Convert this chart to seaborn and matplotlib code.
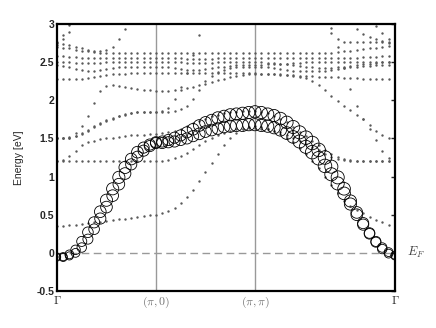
import numpy as np
import pandas as pd
import matplotlib
matplotlib.use("Agg")
import matplotlib.pyplot as plt
import seaborn as sns

nan = np.nan

# k-path Gamma -> X -> M -> Gamma (steps per segment)
n_gx, n_xm, n_mg = 16, 16, 22
k_labels = [r"$\Gamma$", r"$(\pi,0)$", r"$(\pi,\pi)$", r"$\Gamma$"]
y_ticks = [-0.5, 0, 0.5, 1, 1.5, 2, 2.5, 3]
y_ticklabels = ["-0.5", "0", "0.5", "1", "1.5", "2", "2.5", "3"]

# orbital-weighted bands (open circles): energies and weights
orb_a = [-0.05, -0.05, -0.02, 0.04, 0.15, 0.27, 0.40, 0.54, 0.69, 0.84, 0.99, 1.12, 1.23, 1.32, 1.38, 1.42, 1.45,
         1.46, 1.48, 1.51, 1.54, 1.58, 1.62, 1.67, 1.71, 1.74, 1.77, 1.79, 1.81, 1.82, 1.83, 1.84, 1.85,
         1.84, 1.82, 1.80, 1.76, 1.71, 1.65, 1.58, 1.51, 1.44, 1.35, 1.25, 1.13, 0.99, 0.84, 0.68, 0.53,
         0.39, 0.26, 0.15, 0.07, 0.01, -0.03]
orb_b = [-0.06, -0.06, -0.04, 0.00, 0.07, 0.18, 0.31, 0.45, 0.60, 0.75, 0.90, 1.04, 1.16, 1.26, 1.34, 1.40, 1.44,
         1.44, 1.45, 1.46, 1.48, 1.50, 1.53, 1.56, 1.59, 1.61, 1.63, 1.65, 1.66, 1.67, 1.67, 1.68, 1.68,
         1.67, 1.66, 1.64, 1.61, 1.57, 1.52, 1.46, 1.39, 1.32, 1.24, 1.14, 1.03, 0.91, 0.78, 0.64, 0.50,
         0.37, 0.25, 0.14, 0.05, -0.01, -0.04]
w_a = [0.45, 0.5, 0.55, 0.6, 0.65, 0.7, 0.75, 0.8, 0.85, 0.85, 0.85, 0.85, 0.8, 0.8, 0.75, 0.75, 0.75,
       0.75, 0.75, 0.75, 0.75, 0.75, 0.8, 0.8, 0.8, 0.8, 0.85, 0.85, 0.85, 0.85, 0.85, 0.85, 0.85,
       0.85, 0.85, 0.85, 0.9, 0.9, 0.95, 0.95, 1.0, 1.0, 1.0, 1.0, 0.95, 0.95, 0.9, 0.85, 0.8,
       0.75, 0.7, 0.65, 0.6, 0.55, 0.5]
w_b = [0.45, 0.5, 0.5, 0.55, 0.6, 0.65, 0.7, 0.75, 0.8, 0.8, 0.8, 0.8, 0.75, 0.75, 0.75, 0.75, 0.75,
       0.75, 0.75, 0.75, 0.75, 0.75, 0.75, 0.8, 0.8, 0.8, 0.8, 0.8, 0.85, 0.85, 0.85, 0.85, 0.85,
       0.85, 0.85, 0.85, 0.85, 0.9, 0.9, 0.95, 0.95, 1.0, 1.0, 1.0, 0.95, 0.95, 0.9, 0.85, 0.8,
       0.75, 0.7, 0.65, 0.6, 0.55, 0.5]

# remaining bands (small dots)
bands = {
    "d1": [0.35, 0.35, 0.36, 0.37, 0.38, 0.39, 0.40, 0.41, 0.42, 0.43, 0.44, 0.45, 0.46, 0.47, 0.48, 0.49, 0.50,
           0.52, 0.55, 0.59, 0.65, 0.73, 0.83, 0.94, 1.06, 1.18, 1.30, 1.41, 1.50, 1.57, 1.62, 1.65, 1.66,
           1.65, 1.63, 1.60, 1.56, 1.51, 1.45, 1.38, 1.30, 1.21, 1.11, 1.00, 0.89, 0.78, 0.68, 0.61, 0.56,
           0.52, 0.47, 0.43, 0.40, 0.37, 0.35],
    "d2": [1.20, 1.20, 1.20, 1.20, 1.20, 1.20, 1.20, 1.20, 1.20, 1.20, 1.20, 1.21, 1.21, 1.21, 1.21, 1.21, 1.21,
           1.21, 1.22, 1.24, 1.27, 1.31, 1.36, 1.41, 1.46, 1.50, 1.54, 1.57, 1.60, 1.62, 1.63, 1.64, 1.64,
           1.63, 1.62, 1.60, 1.58, 1.55, 1.51, 1.47, 1.43, 1.39, 1.35, 1.30, 1.26, 1.23, 1.22, 1.21, 1.21,
           1.21, 1.20, 1.20, 1.20, 1.20, 1.20],
    "d3": [1.20, 1.22, 1.27, 1.34, 1.41, 1.45, 1.47, 1.49, 1.50, 1.51, 1.52, 1.53, 1.54, 1.55, 1.55, 1.56, 1.56,
           1.57, 1.58, 1.60, 1.63, 1.66, 1.70, 1.73, 1.76, 1.79, 1.81, 1.83, 1.84, 1.85, 1.86, 1.86, 1.86,
           1.85, 1.83, 1.80, 1.76, 1.71, 1.65, 1.59, 1.53, 1.47, 1.41, 1.35, 1.30, 1.26, 1.23, 1.22, 1.21,
           1.21, 1.21, 1.21, 1.20, 1.20, 1.20],
    "d4": [1.50, 1.50, 1.52, 1.57, 1.66, 1.80, 1.97, 2.12, 2.19, 2.20, 2.19, 2.18, 2.16, 2.15, 2.14, 2.13, 2.12,
           2.12, 2.12, 2.13, 2.14, 2.16, 2.18, 2.20, 2.22, 2.24, 2.26, 2.28, 2.30, 2.32, 2.33, 2.34, 2.34,
           2.34, 2.34, 2.34, 2.33, 2.33, 2.32, 2.31, 2.29, 2.25, 2.20, 2.13, 2.06, 1.99, 1.93, 1.87, 1.81,
           1.75, 1.68, 1.60, 1.54, 1.50, 1.50],
    "d5": [1.50, 1.50, 1.51, 1.53, 1.56, 1.60, 1.65, 1.69, 1.73, 1.76, 1.79, 1.81, 1.83, 1.84, 1.85, 1.85, 1.85,
           1.86, 1.90, 2.02, 2.17, 2.36, 2.60, 2.86, 3.10, nan, nan, nan, nan, nan, nan, nan, nan,
           nan, nan, nan, nan, nan, nan, nan, nan, nan, nan, nan, 2.95, 2.70, 2.42, 2.15, 1.93,
           1.75, 1.62, 1.48, 1.34, 1.25, 1.20],
    "d6": [1.50, 1.50, 1.51, 1.53, 1.57, 1.61, 1.66, 1.70, 1.74, 1.77, 1.80, 1.82, 1.83, 1.84, 1.85, 1.85, 1.85,
           1.85, 1.85, 1.86, 1.88, 1.93, 2.02, 2.13, 2.25, 2.32, 2.37, 2.40, 2.42, 2.43, 2.44, 2.44, 2.44,
           2.44, 2.43, 2.42, 2.41, 2.40, 2.39, 2.38, 2.38, 2.38, 2.38, 2.39, 2.40, 2.41, 2.42, 2.43, 2.44,
           2.45, 2.45, 2.46, 2.46, 2.46, 2.46],
    "d7": [2.28, 2.28, 2.28, 2.28, 2.28, 2.29, 2.30, 2.32, 2.33, 2.34, 2.35, 2.35, 2.36, 2.36, 2.36, 2.36, 2.36,
           2.36, 2.36, 2.36, 2.36, 2.36, 2.36, 2.36, 2.36, 2.36, 2.36, 2.36, 2.36, 2.36, 2.36, 2.36, 2.36,
           2.35, 2.35, 2.34, 2.34, 2.33, 2.33, 2.32, 2.32, 2.32, 2.31, 2.31, 2.30, 2.30, 2.29, 2.29, 2.29,
           2.28, 2.28, 2.28, 2.28, 2.28, 2.28],
    "d8": [2.46, 2.45, 2.43, 2.41, 2.40, 2.39, 2.39, 2.40, 2.41, 2.42, 2.43, 2.43, 2.44, 2.44, 2.44, 2.44, 2.44,
           2.44, 2.43, 2.42, 2.41, 2.40, 2.40, 2.40, 2.41, 2.42, 2.43, 2.44, 2.45, 2.46, 2.46, 2.46, 2.46,
           2.46, 2.47, 2.47, 2.48, 2.48, 2.49, 2.49, 2.50, 2.50, 2.50, 2.50, 2.50, 2.50, 2.50, 2.50, 2.50,
           2.50, 2.50, 2.50, 2.50, 2.50, 2.50],
    "d9": [2.50, 2.50, 2.50, 2.49, 2.49, 2.49, 2.49, 2.49, 2.50, 2.50, 2.50, 2.50, 2.50, 2.50, 2.50, 2.50, 2.50,
           2.50, 2.50, 2.50, 2.50, 2.49, 2.49, 2.49, 2.49, 2.49, 2.50, 2.50, 2.50, 2.50, 2.50, 2.50, 2.50,
           2.50, 2.49, 2.49, 2.48, 2.47, 2.46, 2.45, 2.44, 2.43, 2.42, 2.42, 2.42, 2.43, 2.44, 2.45, 2.46,
           2.47, 2.48, 2.49, 2.50, 2.50, 2.50],
    "d10": [2.58, 2.58, 2.57, 2.57, 2.56, 2.56, 2.56, 2.55, 2.55, 2.55, 2.55, 2.55, 2.55, 2.55, 2.55, 2.55, 2.55,
            2.55, 2.55, 2.55, 2.55, 2.54, 2.54, 2.54, 2.54, 2.54, 2.55, 2.55, 2.55, 2.55, 2.55, 2.55, 2.55,
            2.55, 2.55, 2.55, 2.55, 2.55, 2.55, 2.55, 2.55, 2.55, 2.55, 2.55, 2.55, 2.55, 2.56, 2.56, 2.56,
            2.57, 2.57, 2.57, 2.58, 2.58, 2.58],
    "d11": [2.70, 2.69, 2.68, 2.66, 2.65, 2.64, 2.63, 2.62, 2.62, 2.62, 2.62, 2.62, 2.62, 2.62, 2.62, 2.62, 2.62,
            2.62, 2.62, 2.62, 2.62, 2.62, 2.62, 2.62, 2.62, 2.62, 2.62, 2.62, 2.62, 2.62, 2.62, 2.62, 2.62,
            2.62, 2.62, 2.62, 2.62, 2.62, 2.62, 2.62, 2.62, 2.62, 2.62, 2.62, 2.62, 2.63, 2.64, 2.65, 2.66,
            2.67, 2.68, 2.69, 2.70, 2.71, 2.72],
    "d12": [2.75, 2.74, 2.72, 2.70, 2.68, 2.66, 2.65, 2.65, 2.66, 2.70, 2.80, 2.93, 3.08, nan, nan, nan, nan,
            nan, nan, nan, nan, nan, nan, nan, nan, nan, nan, nan, nan, nan, nan, nan, nan,
            nan, nan, nan, nan, nan, nan, nan, nan, nan, nan, 3.05, 2.88, 2.80, 2.77, 2.76, 2.76,
            2.76, 2.76, 2.76, 2.76, 2.75, 2.75],
    "d13": [2.72, 2.80, 2.90, 3.02, nan, nan, nan, nan, nan, nan, nan, nan, nan, nan, nan, nan, nan,
            nan, nan, nan, nan, nan, nan, nan, nan, nan, nan, nan, nan, nan, nan, nan, nan,
            nan, nan, nan, nan, nan, nan, nan, nan, nan, nan, nan, nan, nan, nan, nan, 2.93,
            2.87, 2.83, 2.80, 2.78, 2.76, 2.74],
    "d14": [2.76, 2.86, 2.99, nan, nan, nan, nan, nan, nan, nan, nan, nan, nan, nan, nan, nan, nan,
            nan, nan, nan, nan, nan, nan, nan, nan, nan, nan, nan, nan, nan, nan, nan, nan,
            nan, nan, nan, nan, nan, nan, nan, nan, nan, nan, nan, nan, nan, nan, nan, nan,
            nan, nan, 2.97, 2.88, 2.80, 2.76],
}

# path coordinate along the k-path
k = np.concatenate([
    np.linspace(0, np.pi, n_gx + 1),
    np.pi + np.linspace(0, np.pi, n_xm + 1)[1:],
    2 * np.pi + np.linspace(0, np.pi * np.sqrt(2), n_mg + 1)[1:],
])
k_sym = [k[0], k[n_gx], k[n_gx + n_xm], k[-1]]

df_dots = pd.concat(
    [pd.DataFrame({"k": k, "E": vals, "band": name}) for name, vals in bands.items()],
    ignore_index=True,
).dropna()
df_orb = pd.concat([
    pd.DataFrame({"k": k, "E": orb_a, "w": w_a}),
    pd.DataFrame({"k": k, "E": orb_b, "w": w_b}),
], ignore_index=True)

sns.set_style("white")
plt.rcParams["font.family"] = ["Liberation Sans", "DejaVu Sans"]
plt.rcParams["mathtext.fontset"] = "cm"

fig = plt.figure(figsize=(4.36, 3.28), dpi=100)
ax = fig.add_axes([0.1307, 0.1128, 0.7752, 0.814])

for ks in k_sym[1:3]:
    ax.axvline(ks, color="0.6", lw=1.0, zorder=0)
ax.axhline(0, color="0.6", lw=1.0, dashes=(5.5, 3.2), zorder=0)

sns.scatterplot(data=df_dots, x="k", y="E", s=3, color="0.35", linewidth=0,
                legend=False, ax=ax, zorder=2)
sns.scatterplot(data=df_orb, x="k", y="E", size="w", sizes=(28, 95), size_norm=(0.45, 1.0),
                facecolor="none", edgecolor="black", linewidth=0.6, legend=False,
                ax=ax, zorder=3)

ax.set_xlim(k[0], k[-1])
ax.set_ylim(-0.5, 3)
ax.set_xticks(k_sym)
ax.set_xticklabels(k_labels, fontsize=8.5)
for lab, c in zip(ax.get_xticklabels(), ["0.15", "0.45", "0.45", "0.15"]):
    lab.set_color(c)
ax.set_yticks(y_ticks)
ax.set_yticklabels(y_ticklabels, fontsize=7.5, fontweight="bold")
ax.tick_params(axis="x", length=0, pad=3)
ax.tick_params(axis="y", direction="in", length=3, width=1, right=True, pad=2)
ax.set_xlabel("")
ax.set_ylabel("Energy [eV]", fontsize=7.5, labelpad=9)

for sp in ax.spines.values():
    sp.set_linewidth(1.6)
    sp.set_color("black")

ax.text(1.035, 0, r"$E_F$", transform=ax.get_yaxis_transform(), fontsize=9,
        color="0.25", va="center", ha="left")

fig.savefig("out.png", dpi=100)
